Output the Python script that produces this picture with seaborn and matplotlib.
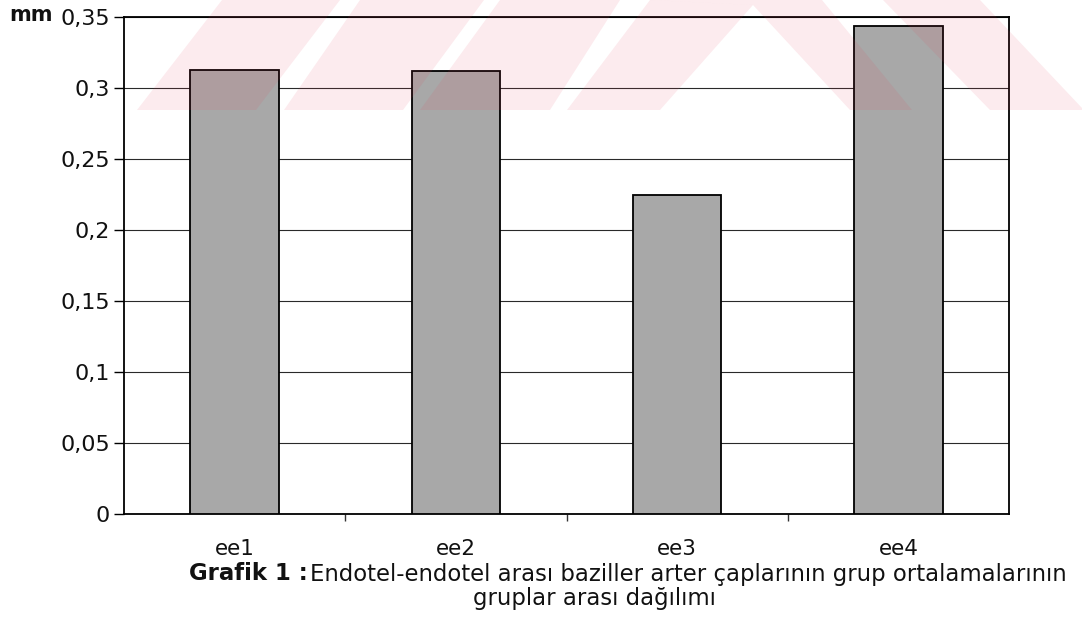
import matplotlib
matplotlib.use("Agg")
import matplotlib.pyplot as plt
from matplotlib.patches import Polygon
import seaborn as sns
import pandas as pd

# Group means (mm)
categories = ["ee1", "ee2", "ee3", "ee4"]
values = [0.313, 0.312, 0.225, 0.344]
y_ticks = [0, 0.05, 0.1, 0.15, 0.2, 0.25, 0.3, 0.35]
y_tick_labels = ["0", "0,05", "0,1", "0,15", "0,2", "0,25", "0,3", "0,35"]
unit_label = "mm"
caption_bold = "Grafik 1 :"
caption_line1 = "Endotel-endotel arası baziller arter çaplarının grup ortalamalarının"
caption_line2 = "gruplar arası dağılımı"

sns.set_theme(style="white")
plt.rcParams["font.family"] = ["DejaVu Sans"]

W, H = 1082, 620
fig = plt.figure(figsize=(W / 100, H / 100), dpi=100)
ax = fig.add_axes([124 / W, 1 - 514 / H, (1009 - 124) / W, (514 - 17) / H])

df = pd.DataFrame({"grup": categories, "deger": values})
sns.barplot(data=df, x="grup", y="deger", color="#a8a8a8", saturation=1,
            edgecolor="black", linewidth=1.3, width=0.4, ax=ax, zorder=3)

ax.set_xlim(-0.5, len(categories) - 0.5)
ax.set_ylim(0, 0.35)
ax.set_yticks(y_ticks)
ax.set_yticklabels(y_tick_labels)
ax.set_xlabel("")
ax.set_ylabel("")

ax.grid(axis="y", color="#2a2a2a", linewidth=0.8, zorder=0)
ax.set_axisbelow(True)
for s in ax.spines.values():
    s.set_visible(True)
    s.set_color("black")
    s.set_linewidth(1.3)

ax.tick_params(axis="y", which="major", left=True, direction="out", length=7,
               width=1, color="black", pad=3, labelsize=16, labelcolor="#111111")
ax.set_xticks(range(len(categories)), minor=False)
ax.set_xticks([i + 0.5 for i in range(len(categories) - 1)], minor=True)
ax.tick_params(axis="x", which="major", bottom=False, length=0, pad=18,
               labelsize=15.5, labelcolor="#111111")
ax.tick_params(axis="x", which="minor", bottom=True, direction="out", length=5,
               width=1, color="#333333")

# unit label beside the top tick
fig.text(9 / W, 1 - 21 / H, unit_label, fontsize=15, fontweight="bold",
         ha="left", va="baseline", color="#111111")

# caption under the chart
fig.canvas.draw()
renderer = fig.canvas.get_renderer()
cap_size = 16.4
t_bold = fig.text(189 / W, 1 - 574 / H, caption_bold, fontsize=cap_size,
                  fontweight="bold", ha="left", va="center", color="#111111")
bb = t_bold.get_window_extent(renderer)
fig.text(bb.x1 / W + 2 / W, 1 - 574 / H, caption_line1, fontsize=cap_size,
         ha="left", va="center", color="#111111")
fig.text(594 / W, 1 - 599 / H, caption_line2, fontsize=cap_size,
         ha="center", va="center", color="#111111")

# faint striped watermark band across the top
stripes = [
    [(137, 110), (256, 110), (340, 0), (222, 0)],
    [(284, 110), (403, 110), (484, 0), (360, 0)],
    [(420, 110), (550, 110), (620, 0), (500, 0)],
    [(567, 110), (660, 110), (753, 5), (650, 0)],
    [(753, 5), (650, 0), (822, 0), (912, 110), (850, 110)],
    [(883, 0), (980, 0), (1082, 108), (1082, 110), (990, 110)],
]
for pts in stripes:
    fig.add_artist(Polygon([(x / W, 1 - y / H) for x, y in pts], closed=True,
                           transform=fig.transFigure, facecolor=(0.9, 0.24, 0.35),
                           edgecolor="none", alpha=0.1, zorder=20))

fig.savefig("out.png", dpi=100)
